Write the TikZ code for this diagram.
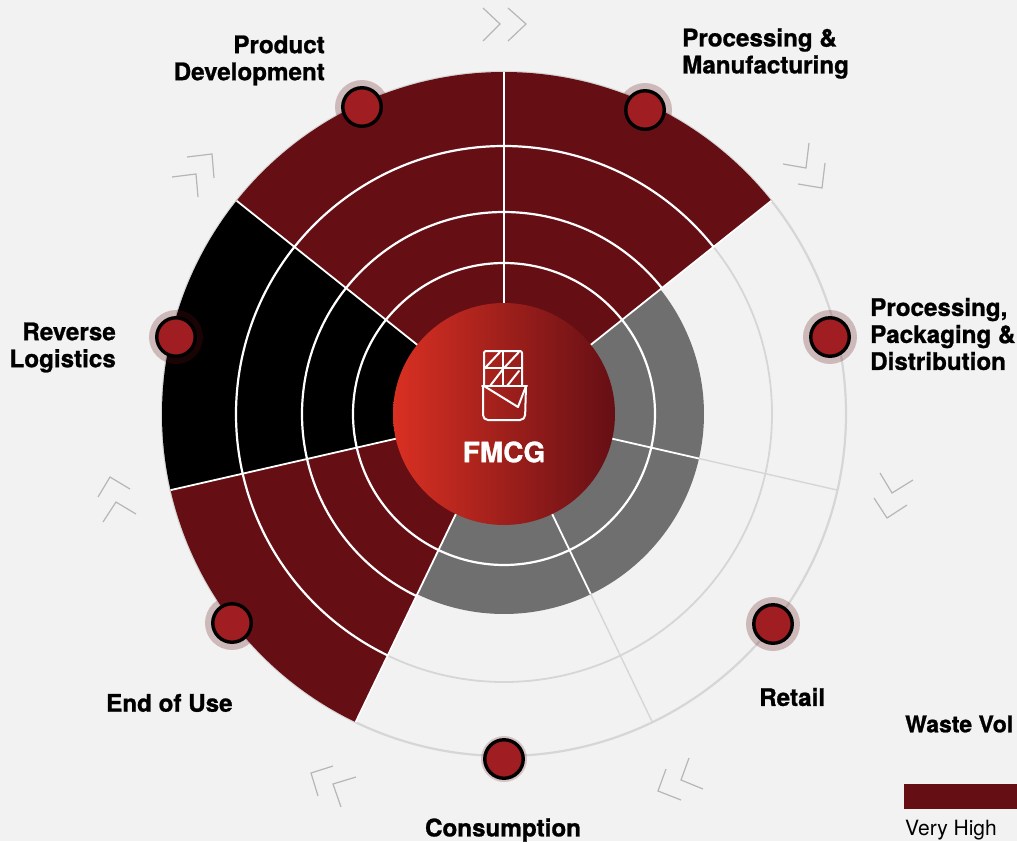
\documentclass[tikz,border=0pt]{standalone}
\usepackage{fontspec}
\setmainfont{TeX Gyre Heros}
\newfontfamily\hv[BoldFeatures={FakeBold=1}]{TeX Gyre Heros}
\definecolor{bgc}{HTML}{F2F2F2}
\definecolor{dred}{HTML}{650F15}
\definecolor{gry}{HTML}{6F6F6F}
\definecolor{lgr}{HTML}{D6D6D6}
\definecolor{dotr}{HTML}{A01D21}
\definecolor{cleft}{HTML}{D93022}
\definecolor{cmid}{HTML}{961B1C}
\tikzset{
 lab/.style={font=\hv\bfseries\fontsize{24.2}{27}\selectfont,text=black,inner sep=0pt,align=left},
 chev/.style={draw=lgr!85!black,line width=1.2pt,line join=miter},
 dotc/.style={circle,fill=dotr,draw=black,line width=3.4pt,minimum size=38.5pt,inner sep=0pt},
 halo/.style={fill=dred},
}
\newcommand{\wdg}[4]{\fill[#4] (0,0) -- (#1:#3pt) arc[start angle=#1,end angle=#2,radius=#3pt] -- cycle;}
\newcommand{\chv}[3]{\draw[chev] (#1) -- (#2) -- (#3);}
\begin{document}
\begin{tikzpicture}[x=1pt,y=-1pt]
\useasboundingbox (0,0) rectangle (1017,841);
\fill[bgc] (0,0) rectangle (1017,841);
\begin{scope}[shift={(504,414)},x=1pt,y=1pt]
\draw[lgr,line width=2.2pt] (0,0) circle[radius=342pt];
\draw[lgr,line width=1.8pt] (0,0) circle[radius=268pt];
\foreach \a in {38.57,-12.86,-64.29,-115.71}{\draw[lgr,line width=1.4pt] (0,0) -- (\a:342pt);}
\wdg{90}{38.57}{342}{dred}
\wdg{90}{141.43}{342}{dred}
\wdg{141.43}{192.86}{342}{black}
\wdg{192.86}{244.29}{342}{dred}
\wdg{38.57}{-12.86}{200}{gry}
\wdg{-12.86}{-64.29}{200}{gry}
\wdg{-64.29}{-115.71}{200}{gry}
\foreach \r in {268,202,151}{
  \draw[white,line width=2.2pt] (38.57:\r pt) arc[start angle=38.57,end angle=244.29,radius=\r pt];}
\draw[white,line width=2.2pt] (38.57:151pt) arc[start angle=38.57,end angle=-115.71,radius=151pt];
\foreach \a in {90,38.57,141.43,192.86,244.29}{\draw[white,line width=1.8pt] (0,0) -- (\a:342pt);}
\foreach \a in {-12.86,-64.29}{\draw[white,line width=1.8pt] (0,0) -- (\a:200pt);}
\shade[left color=cleft,middle color=cmid,right color=dred] (0,0) circle[radius=111pt];
\end{scope}
% icon
\begin{scope}[white,line width=2pt,line join=round,line cap=round]
\draw[rounded corners=2pt] (484,386) -- (484,351) -- (522,351) -- (522,386);
\draw (503,351) -- (503,386) (484,368) -- (522,368);
\draw (485,368) -- (500,352) (504,368) -- (519,352) (490,386) -- (503,369) (507,386) -- (519,371);
\draw[rounded corners=5pt] (483,386) -- (483,420) -- (525,420) -- (526,386);
\draw (482,386) -- (527,386);
\draw (484,386) -- (518,407) -- (526,386);
\end{scope}
\node[font=\hv\bfseries\fontsize{28}{28}\selectfont,text=white,inner sep=0pt] (fmcg) at (504,452) {FMCG};
% chevrons
\chv{483,8}{500,24}{483,41}
\chv{508,8}{526,24}{508,41}
\chv{809,143}{806,168}{783,164}
\chv{825,163}{822,188}{798,184}
\chv{880,473}{892,493}{913,480}
\chv{874,498}{887,518}{907,505}
\chv{689,758}{681,780}{703,789}
\chv{666,769}{658,791}{681,800}
\chv{333,766}{311,773}{318,796}
\chv{356,777}{333,784}{341,807}
\chv{98,497}{110,477}{130,489}
\chv{103,522}{116,502}{136,514}
\chv{187,157}{212,154}{214,178}
\chv{172,177}{196,174}{198,197}
% dots
\foreach \n/\x/\y/\o/\h in {pd/362/107/.25/27,pm/645/110/.25/27,pp/830/337/.25/27,re/773/624/.25/27,eu/232/623/.25/27,rl/176/337/.25/27,co/504/759/.2/23}{
  \fill[halo,fill opacity=\o] (\x,\y) circle[radius=\h pt];
  \node[dotc] (\n) at (\x,\y) {};
}
% labels
\node[lab,align=right,anchor=east] (l1) at (325,60.5) {Product\\Development};
\node[lab,anchor=west] (l2) at (682,53.5) {Processing \&\\Manufacturing};
\node[lab,anchor=west] (l3) at (870,334) {Processing,\\Packaging \&\\Distribution};
\node[lab,anchor=west] (l4) at (759,697) {Retail};
\node[lab,anchor=center] (l5) at (503,830) {Consumption};
\node[lab,anchor=west] (l6) at (106,703) {End of Use};
\node[lab,align=right,anchor=east] (l7) at (116,347.5) {Reverse\\Logistics};
\node[lab,anchor=west,font=\hv\bfseries\fontsize{23}{27}\selectfont] (l8) at (905,724) {Waste Vol};
\fill[dred] (904,784) rectangle (1017,809);
\node[font=\fontsize{21}{24}\selectfont,text=black,anchor=west,inner sep=0pt] (l9) at (905,830) {Very High};
\end{tikzpicture}
\end{document}
